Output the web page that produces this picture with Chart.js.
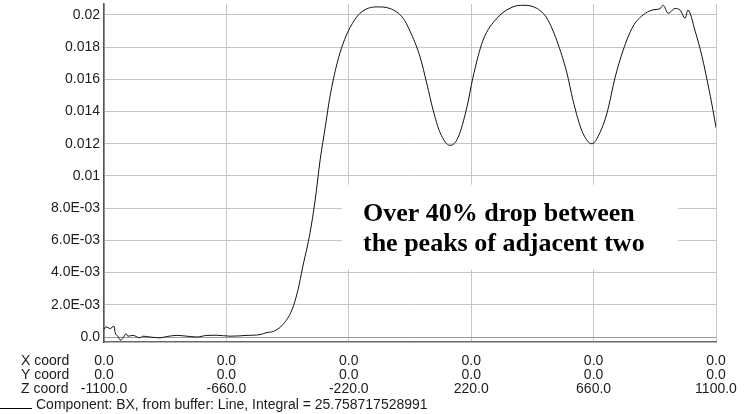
<!DOCTYPE html>
<html>
<head>
<meta charset="utf-8">
<script src="https://cdn.jsdelivr.net/npm/chart.js@4/dist/chart.umd.min.js"></script>
<style>
  html, body { margin: 0; padding: 0; background: #ffffff; }
  #wrap { width: 745px; height: 414px; }
</style>
</head>
<body>
<div id="wrap"><canvas id="c" width="745" height="414"></canvas></div>
<script>
// Z position along the line (mm) and the BX field component sampled there
const zCoords = [
  -1100, -1093, -1078, -1064, -1060, -1050, -1040, -1033, -1021, -1014,
  -996, -971, -960, -935, -899, -874, -838, -802, -766, -730,
  -694, -647, -586, -539, -514, -492, -457, -424, -403, -385,
  -359, -341, -323, -305, -288, -262, -241, -216, -180, -119,
  -72, -25, 0, 36, 61, 83, 108, 144, 173, 205,
  226, 262, 313, 370, 406, 457, 492, 528, 564, 586,
  618, 654, 683, 708, 737, 766, 802, 838, 870, 899,
  910, 928, 953, 971, 989, 999, 1025, 1050, 1071, 1089,
  1100
];
const bxValues = [
  0.00046, 0.00063, 0.00053, 0.00067, 0.00028, 0.00005, -0.0002, -0.0001, 0.0002, 0.00005,
  0.0001, -0.00005, 0.00005, 0.0, -0.00005, 0.00003, 0.0001, 0.00005, 0.0, 0.0001,
  0.00011, 0.00005, 0.0001, 0.00015, 0.00028, 0.00034, 0.00077, 0.0017, 0.0029, 0.0044,
  0.0065, 0.0085, 0.0110, 0.0130, 0.0149, 0.0170, 0.0182, 0.0192, 0.0201, 0.0205,
  0.0204, 0.0198, 0.0190, 0.0174, 0.0157, 0.0141, 0.0127, 0.0119, 0.0124, 0.0143,
  0.0161, 0.0184, 0.0198, 0.0205, 0.0206, 0.0204, 0.0198, 0.0184, 0.0164, 0.0147,
  0.0128, 0.0120, 0.0127, 0.0139, 0.0161, 0.0178, 0.0193, 0.0200, 0.0203, 0.0204,
  0.0206, 0.0201, 0.0204, 0.0203, 0.0198, 0.0203, 0.0190, 0.0174, 0.0157, 0.0141,
  0.0130
];

// Value axis ticks and their printed labels
const yTickValues = [0, 0.002, 0.004, 0.006, 0.008, 0.01, 0.012, 0.014, 0.016, 0.018, 0.02];
const yTickLabels = ['0.0', '2.0E-03', '4.0E-03', '6.0E-03', '8.0E-03', '0.01', '0.012', '0.014', '0.016', '0.018', '0.02'];

// Position axis ticks: each one prints its X, Y and Z coordinate
const xTickValues = [-1100, -660, -220, 220, 660, 1100];
const xCoordLabels = ['0.0', '0.0', '0.0', '0.0', '0.0', '0.0'];
const yCoordLabels = ['0.0', '0.0', '0.0', '0.0', '0.0', '0.0'];
const zCoordLabels = ['-1100.0', '-660.0', '-220.0', '220.0', '660.0', '1100.0'];
const coordRowNames = ['X coord', 'Y coord', 'Z coord'];

const legendText = 'Component: BX, from buffer: Line, Integral = 25.758717528991';
const noteLines = ['Over 40% drop between', 'the peaks of adjacent two'];

const SANS = '"Liberation Sans", Arial, Helvetica, sans-serif';
const SERIF = '"Liberation Serif", "Times New Roman", Times, serif';
const TEXT_COLOR = '#1c1c1c';
const X_TICK_PAD = 12.5;
const X_LINE_H = 14;

const points = zCoords.map((z, i) => ({ x: z, y: bxValues[i] }));

// Row captions beside the coordinate ticks and the legend line underneath
const captionPlugin = {
  id: 'captions',
  afterDraw(chart) {
    const ctx = chart.ctx;
    const xs = chart.scales.x;
    ctx.save();
    ctx.fillStyle = TEXT_COLOR;
    ctx.font = '14px ' + SANS;
    ctx.textAlign = 'left';
    ctx.textBaseline = 'middle';
    coordRowNames.forEach((name, i) => {
      ctx.fillText(name, 21, xs.top + X_TICK_PAD + X_LINE_H * (i + 0.5));
    });
    ctx.textBaseline = 'alphabetic';
    ctx.fillText(legendText, 36, 409);
    ctx.strokeStyle = '#000000';
    ctx.lineWidth = 1;
    ctx.beginPath();
    ctx.moveTo(0, 408.5);
    ctx.lineTo(32, 408.5);
    ctx.stroke();
    ctx.restore();
  }
};

// Text note on a white panel placed in data coordinates
const notePlugin = {
  id: 'note',
  beforeDatasetsDraw(chart) {
    const ctx = chart.ctx;
    const xs = chart.scales.x, ys = chart.scales.y;
    const left = xs.getPixelForValue(-244);
    const right = xs.getPixelForValue(963);
    const top = ys.getPixelForValue(0.00946);
    const bottom = ys.getPixelForValue(0.00419);
    ctx.save();
    ctx.fillStyle = '#ffffff';
    ctx.fillRect(left, top, right - left, bottom - top);
    ctx.fillStyle = '#000000';
    ctx.font = 'bold 26px ' + SERIF;
    ctx.textAlign = 'left';
    ctx.textBaseline = 'alphabetic';
    const tx = xs.getPixelForValue(-169);
    ctx.fillText(noteLines[0], tx, ys.getPixelForValue(0.00719));
    ctx.fillText(noteLines[1], tx, ys.getPixelForValue(0.00533));
    ctx.restore();
  }
};

new Chart(document.getElementById('c'), {
  type: 'line',
  data: {
    datasets: [{
      data: points,
      borderColor: '#111111',
      borderWidth: 1,
      pointRadius: 0,
      fill: false,
      cubicInterpolationMode: 'monotone'
    }]
  },
  options: {
    responsive: false,
    animation: false,
    devicePixelRatio: 1,
    layout: { padding: { left: 0, right: 29, top: 4, bottom: 0 } },
    plugins: { legend: { display: false }, tooltip: { enabled: false } },
    scales: {
      x: {
        type: 'linear',
        min: -1100,
        max: 1100,
        afterBuildTicks(scale) { scale.ticks = xTickValues.map(v => ({ value: v })); },
        afterFit(scale) {
          scale.height = 72;
          scale.paddingLeft = 0;
          scale.paddingRight = 0;
        },
        grid: {
          color: '#c6c6c6',
          lineWidth: 1,
          drawTicks: false
        },
        border: { display: true, color: '#6a6a6a', width: 1.5 },
        ticks: {
          padding: X_TICK_PAD,
          maxRotation: 0,
          autoSkip: false,
          color: TEXT_COLOR,
          font: { family: SANS, size: 14, lineHeight: X_LINE_H / 14 },
          callback(value) {
            const i = xTickValues.indexOf(value);
            return i < 0 ? '' : [xCoordLabels[i], yCoordLabels[i], zCoordLabels[i]];
          }
        }
      },
      y: {
        type: 'linear',
        min: -0.00031,
        max: 0.02068,
        afterBuildTicks(scale) { scale.ticks = yTickValues.map(v => ({ value: v })); },
        afterFit(scale) {
          scale.width = 104;
          scale.paddingTop = 0;
          scale.paddingBottom = 0;
        },
        grid: {
          color: ctx => (ctx.tick && ctx.tick.value === 0 ? '#9c9c9c' : '#c6c6c6'),
          lineWidth: 1,
          drawTicks: false
        },
        border: { display: true, color: '#555555', width: 1.5 },
        ticks: {
          padding: 4,
          autoSkip: false,
          color: TEXT_COLOR,
          font: { family: SANS, size: 14 },
          callback(value) {
            const i = yTickValues.indexOf(value);
            return i < 0 ? '' : yTickLabels[i];
          }
        }
      }
    }
  },
  plugins: [notePlugin, captionPlugin]
});
</script>
</body>
</html>
